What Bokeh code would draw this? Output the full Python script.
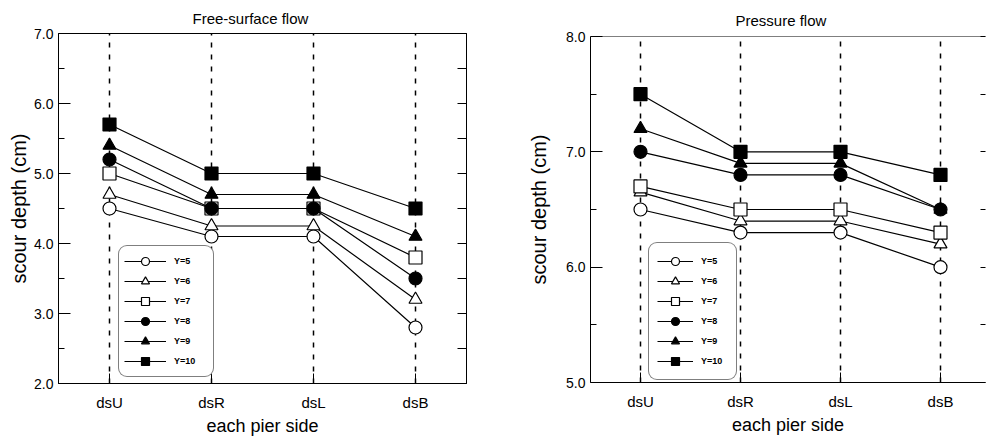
from bokeh.plotting import figure
from bokeh.layouts import row
from bokeh.models import (Range1d, FixedTicker, LinearAxis, Legend, LegendItem,
                          Span, NumeralTickFormatter)
from bokeh.embed import file_html
from bokeh.resources import INLINE

# ---------------- data ----------------
sides = ["dsU", "dsR", "dsL", "dsB"]
series_labels = ["Y=5", "Y=6", "Y=7", "Y=8", "Y=9", "Y=10"]

free_y5 = [4.5, 4.1, 4.1, 2.8]
free_y6 = [4.7, 4.25, 4.25, 3.2]
free_y7 = [5.0, 4.5, 4.5, 3.8]
free_y8 = [5.2, 4.5, 4.5, 3.5]
free_y9 = [5.4, 4.7, 4.7, 4.1]
free_y10 = [5.7, 5.0, 5.0, 4.5]

press_y5 = [6.5, 6.3, 6.3, 6.0]
press_y6 = [6.65, 6.4, 6.4, 6.2]
press_y7 = [6.7, 6.5, 6.5, 6.3]
press_y8 = [7.0, 6.8, 6.8, 6.5]
press_y9 = [7.2, 6.9, 6.9, 6.5]
press_y10 = [7.5, 7.0, 7.0, 6.8]

free_yticks = [2.0, 3.0, 4.0, 5.0, 6.0, 7.0]
press_yticks = [5.0, 6.0, 7.0, 8.0]

FONT = "Liberation Sans"
markers = ["circle", "triangle", "square", "circle", "triangle", "square"]
fills = ["white", "white", "white", "black", "black", "black"]


def make_plot(title, series, yticks, x_end, width, height, mb, title_standoff,
              title_offset, ylabel_standoff, legend_loc, legend_pad,
              legend_glyph_w, legend_label_w, show_outline, right_tick_len):
    xs = list(range(1, len(sides) + 1))
    y0, y1 = yticks[0], yticks[-1]
    p = figure(width=width, height=height, output_backend="svg",
               toolbar_location=None, x_range=Range1d(0.5, x_end),
               y_range=Range1d(y0, y1),
               min_border_left=mb[0], min_border_right=mb[1],
               min_border_top=mb[2], min_border_bottom=mb[3])
    try:
        p.frame_align = False
    except Exception:
        pass
    p.title.text = title
    p.title.align = "left"
    p.title.offset = title_offset
    p.title.text_font = FONT
    p.title.text_font_size = "15px"
    p.title.text_font_style = "normal"
    p.title.text_color = "black"
    p.title.standoff = title_standoff

    halves = [(a + b) / 2 for a, b in zip(yticks, yticks[1:])]

    # x axis
    xa = p.xaxis[0]
    xa.ticker = FixedTicker(ticks=xs)
    xa.major_label_overrides = {i: s for i, s in zip(xs, sides)}
    xa.major_label_text_font = FONT
    xa.major_label_text_font_size = "15px"
    xa.major_label_text_color = "black"
    xa.major_label_standoff = 10
    xa.major_tick_in = 10
    xa.major_tick_out = 0
    xa.major_tick_line_color = "black"
    xa.minor_tick_line_color = None
    xa.axis_label = "each pier side"
    xa.axis_label_text_font = FONT
    xa.axis_label_text_font_size = "18px"
    xa.axis_label_text_font_style = "normal"
    xa.axis_label_text_color = "black"
    xa.axis_label_standoff = 2
    xa.axis_line_color = "black"

    # y axis
    ya = p.yaxis[0]
    ya.ticker = FixedTicker(ticks=yticks, minor_ticks=halves)
    ya.formatter = NumeralTickFormatter(format="0.0")
    ya.major_label_text_font = FONT
    ya.major_label_text_font_size = "14px"
    ya.major_label_text_color = "black"
    ya.major_label_standoff = 5
    ya.major_tick_in = 12
    ya.major_tick_out = 0
    ya.minor_tick_in = 6
    ya.minor_tick_out = 0
    ya.major_tick_line_color = "black"
    ya.minor_tick_line_color = "black"
    ya.axis_line_color = "black"
    ya.axis_label = "scour depth (cm)"
    ya.axis_label_text_font = FONT
    ya.axis_label_text_font_size = "20px"
    ya.axis_label_text_font_style = "normal"
    ya.axis_label_text_color = "black"
    ya.axis_label_standoff = ylabel_standoff

    # right-side ticks
    rticks = sorted(yticks + halves)
    ra = LinearAxis(ticker=FixedTicker(ticks=rticks),
                    major_label_overrides={t: "" for t in rticks},
                    major_label_standoff=0,
                    major_tick_in=right_tick_len, major_tick_out=0,
                    major_tick_line_color="black",
                    minor_tick_line_color=None)
    if not show_outline:
        ra.axis_line_color = None
    p.add_layout(ra, "right")

    # dashed verticals at each pier side
    p.xgrid.ticker = FixedTicker(ticks=xs)
    p.xgrid.grid_line_color = "black"
    p.xgrid.grid_line_dash = "5 7"
    p.xgrid.grid_line_width = 1.5
    p.ygrid.grid_line_color = None

    if show_outline:
        p.outline_line_color = "black"
        p.outline_line_width = 1
        p.outline_line_alpha = 1
    else:
        p.outline_line_color = None
        p.add_layout(Span(location=y1, dimension="width",
                          line_color="black", line_width=1))

    items = []
    for lab, ys, mk, fc in zip(series_labels, series, markers, fills):
        ln = p.line(xs, ys, line_color="black", line_width=1.2)
        sc = p.scatter(xs, ys, marker=mk, size=13, fill_color=fc,
                       line_color="black", line_width=1.2)
        items.append(LegendItem(label=lab, renderers=[ln, sc]))

    leg = Legend(items=items, location=legend_loc)
    leg.label_text_font = FONT
    leg.label_text_font_size = "9px"
    leg.label_text_font_style = "bold"
    leg.label_text_color = "black"
    leg.glyph_width = legend_glyph_w
    leg.glyph_height = 20
    leg.label_height = 16
    leg.label_width = legend_label_w
    leg.label_standoff = 8
    leg.spacing = 0
    leg.padding = legend_pad
    leg.margin = 0
    leg.border_line_color = "black"
    leg.border_line_width = 1
    leg.background_fill_color = "white"
    leg.background_fill_alpha = 1
    try:
        leg.border_radius = 9
    except Exception:
        pass
    p.add_layout(leg)
    return p


p1 = make_plot("Free-surface flow",
               [free_y5, free_y6, free_y7, free_y8, free_y9, free_y10],
               free_yticks, 4.5, 505, 439, (58, 39, 32, 56), 14, 134, 1,
               (60, 6), 5, 42, 34, True, 9)
p2 = make_plot("Pressure flow",
               [press_y5, press_y6, press_y7, press_y8, press_y9, press_y10],
               press_yticks, 4.45, 482, 439, (85, 2, 36, 57), 16, 145, 13,
               (58, 2), 8, 36, 27, False, 5)

layout = row(p1, p2)
open("out.html", "w").write(file_html(layout, INLINE))
